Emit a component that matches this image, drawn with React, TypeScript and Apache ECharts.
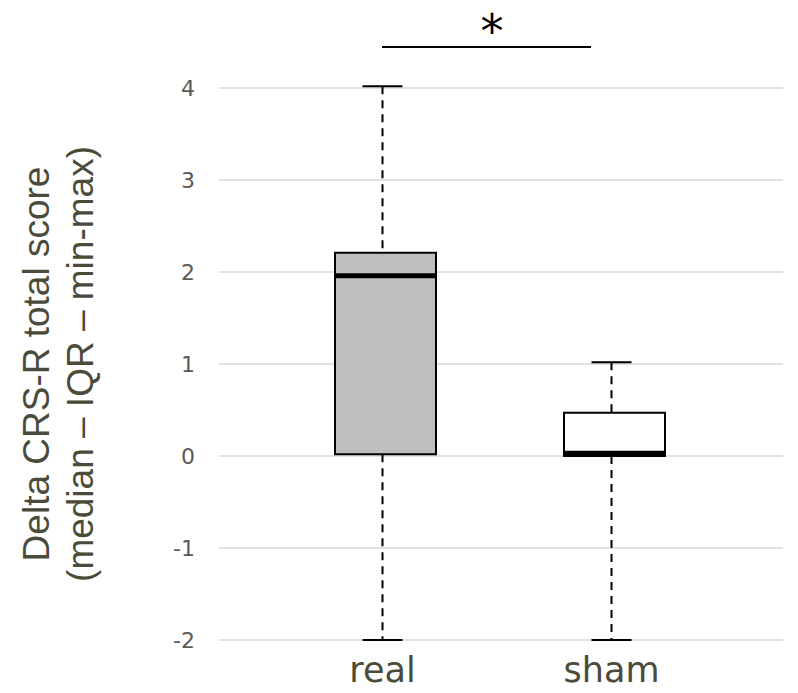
import React, { useEffect, useRef } from 'react';
import * as echarts from 'echarts';

const categories = ['real', 'sham'];
const minValues = [-2, -2];
const q1Values = [0.02, 0];
const medianValues = [1.96, 0.03];
const q3Values = [2.21, 0.47];
const maxValues = [4.02, 1.02];
const boxFills = ['#bfbfbf', '#ffffff'];
const yMin = -2;
const yMax = 4;
const yInterval = 1;
const yTitle = 'Delta CRS-R total score\n(median – IQR – min-max)';
const significance = '*';

const TEXT = '#4b4b3b';

export default function App() {
  const ref = useRef<HTMLDivElement>(null);
  useEffect(() => {
    const chart = echarts.init(ref.current!, null, { renderer: 'svg' });
    const data = categories.map((c, i) => [
      i, minValues[i], q1Values[i], medianValues[i], q3Values[i], maxValues[i],
    ]);
    const renderItem = (params: any, api: any) => {
      const idx = api.value(0);
      const pMin = api.coord([idx, api.value(1)]);
      const pQ1 = api.coord([idx, api.value(2)]);
      const pMed = api.coord([idx, api.value(3)]);
      const pQ3 = api.coord([idx, api.value(4)]);
      const pMax = api.coord([idx, api.value(5)]);
      const cx = pMin[0];
      const bw = 101;
      const bx = cx + 3 - bw / 2;
      const capW = 40;
      const black = '#000';
      return {
        type: 'group',
        children: [
          { type: 'line', shape: { x1: cx, y1: pMax[1], x2: cx, y2: pQ3[1] }, style: { stroke: black, lineWidth: 2, lineDash: [8, 6] } },
          { type: 'line', shape: { x1: cx, y1: pQ1[1], x2: cx, y2: pMin[1] }, style: { stroke: black, lineWidth: 2, lineDash: [8, 6] } },
          { type: 'line', shape: { x1: cx - capW / 2, y1: pMax[1], x2: cx + capW / 2, y2: pMax[1] }, style: { stroke: black, lineWidth: 2 } },
          { type: 'line', shape: { x1: cx - capW / 2, y1: pMin[1], x2: cx + capW / 2, y2: pMin[1] }, style: { stroke: black, lineWidth: 2 } },
          { type: 'rect', shape: { x: bx, y: pQ3[1], width: bw, height: pQ1[1] - pQ3[1] }, style: { fill: boxFills[idx], stroke: black, lineWidth: 2 } },
          { type: 'line', shape: { x1: bx, y1: pMed[1], x2: bx + bw + 1, y2: pMed[1] }, style: { stroke: black, lineWidth: 5 } },
        ],
      };
    };
    chart.setOption({
      animation: false,
      grid: [
        { left: 219, right: 15, top: 88, bottom: 53 },
        { left: 268, width: 458, top: 88, bottom: 53 },
      ],
      xAxis: [
        { gridIndex: 0, type: 'value', show: false, min: 0, max: 1 },
        {
          gridIndex: 1, type: 'category', data: categories,
          axisLine: { show: false }, axisTick: { show: false }, splitLine: { show: false },
          axisLabel: { fontSize: 35, color: TEXT, fontFamily: 'DejaVu Sans', margin: 12 },
        },
      ],
      yAxis: [
        {
          gridIndex: 0, type: 'value', min: yMin, max: yMax, interval: yInterval,
          axisLine: { show: false }, axisTick: { show: false },
          axisLabel: { fontSize: 22, color: '#595959', margin: 24, fontFamily: 'DejaVu Sans' },
          splitLine: { lineStyle: { color: '#d9d9d9', width: 1.5 } },
        },
        { gridIndex: 1, type: 'value', min: yMin, max: yMax, interval: yInterval, show: false, splitLine: { show: false } },
      ],
      graphic: [
        {
          type: 'text', x: 58, y: 364, rotation: Math.PI / 2,
          style: {
            text: yTitle, fontSize: 37, lineHeight: 44, fill: TEXT,
            fontFamily: 'Liberation Sans', align: 'center', verticalAlign: 'middle',
          },
        },
        { type: 'line', shape: { x1: 382, y1: 47, x2: 591, y2: 47 }, style: { stroke: '#000', lineWidth: 2 } },
        {
          type: 'text', x: 492, y: 31,
          style: { text: significance, fontSize: 46, fill: '#000', fontFamily: 'DejaVu Sans', align: 'center', verticalAlign: 'middle' },
        },
      ],
      series: [
        { type: 'custom', xAxisIndex: 1, yAxisIndex: 1, data, renderItem, clip: false },
      ],
    });
    return () => chart.dispose();
  }, []);
  return <div ref={ref} style={{ position: 'absolute', left: 0, top: 0, width: 798, height: 693 }} />;
}
